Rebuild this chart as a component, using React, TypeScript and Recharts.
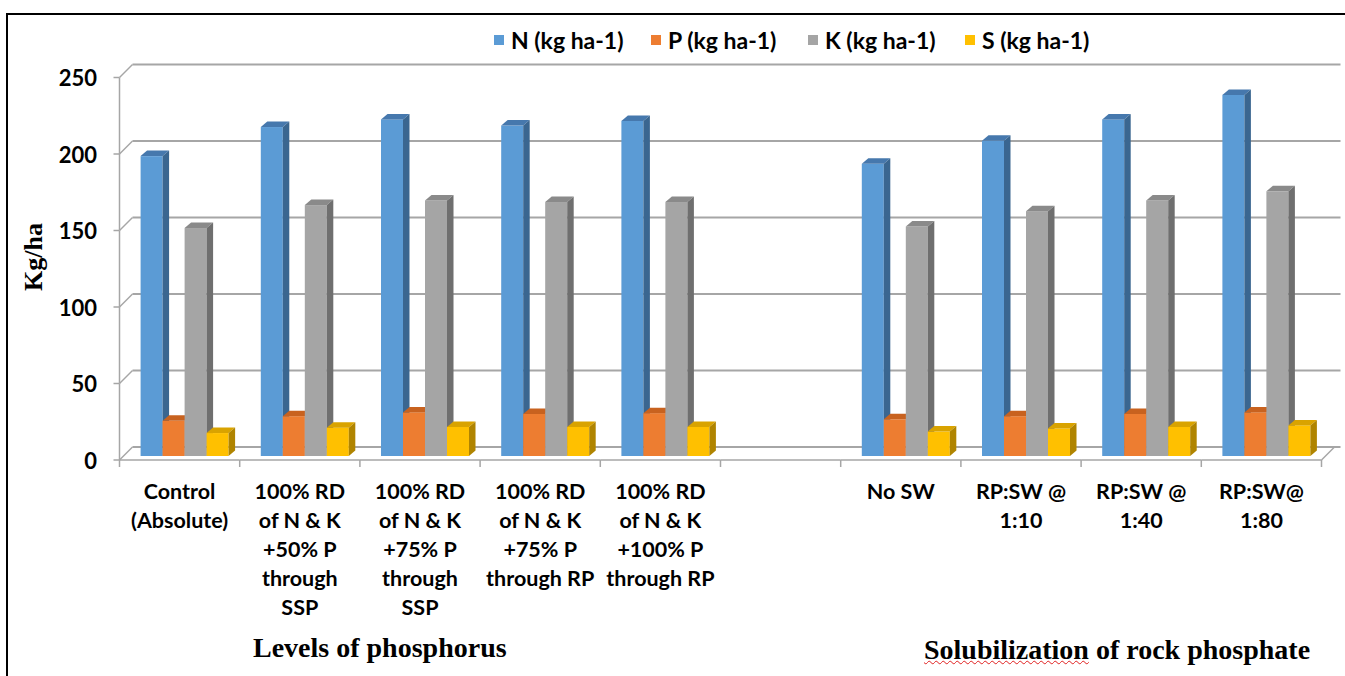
import React from "react";
import { BarChart, Bar, XAxis, YAxis, CartesianGrid } from "recharts";

const categories = [
  "Control\n(Absolute)",
  "100% RD\nof N & K\n+50% P\nthrough\nSSP",
  "100% RD\nof N & K\n+75% P\nthrough\nSSP",
  "100% RD\nof N & K\n+75% P\nthrough RP",
  "100% RD\nof N & K\n+100% P\nthrough RP",
  "",
  "No SW",
  "RP:SW @\n1:10",
  "RP:SW @\n1:40",
  "RP:SW@\n1:80",
];

const nValues = [196, 215, 220, 216, 219, null, 191, 206, 220, 236];
const pValues = [23, 26, 28.5, 27.5, 28, null, 24, 26, 27.5, 28.5];
const kValues = [149, 164, 167, 166, 166, null, 150, 160, 167, 173];
const sValues = [15, 18.5, 19, 19, 19, null, 16, 18, 19, 20];

const seriesNames = ["N (kg ha-1)", "P (kg ha-1)", "K (kg ha-1)", "S (kg ha-1)"];
const yTicks = [0, 50, 100, 150, 200, 250];

const palette = [
  { front: "#5b9bd5", top: "#4678ad", side: "#3a6690" },
  { front: "#ed7d31", top: "#c8621f", side: "#b5561a" },
  { front: "#a5a5a5", top: "#8a8a8a", side: "#6f6f6f" },
  { front: "#ffc000", top: "#d9a300", side: "#b08400" },
];

const rows = categories.map((name, i) => ({
  name,
  N: nValues[i],
  P: pValues[i],
  K: kValues[i],
  S: sValues[i],
}));
const keys = ["N", "P", "K", "S"];

// bar plane of the 3D plot
const W = 1345;
const H = 676;
const PLOT_LEFT = 124.5;
const PLOT_TOP = 73.5;
const PLOT_BOTTOM = 456;
const PLOT_RIGHT = 1326.5;
const BAND = (PLOT_RIGHT - PLOT_LEFT) / categories.length;
const STEP = ((PLOT_BOTTOM - PLOT_TOP) * 50) / 250;
// front plane / back wall offsets
const FX = -5;
const FY = 4;
const BX = 8;
const BY = -9;
const DX = 6.5;
const DY = 5.5;

const GRID = "#a6a6a6";
const LABEL_FONT = "Lato, 'Open Sans', sans-serif";
const SERIF = "'Liberation Serif', 'Times New Roman', serif";

const Box = (props: any) => {
  const { x, y, width, height, c } = props;
  if (!height || height <= 0) return null;
  const r = x + width;
  const b = y + height;
  return (
    <g>
      <rect x={x} y={y} width={width} height={height} fill={c.front} />
      <polygon
        points={`${x},${y} ${x + DX},${y - DY} ${r + DX},${y - DY} ${r},${y}`}
        fill={c.top}
      />
      <polygon
        points={`${r},${y} ${r + DX},${y - DY} ${r + DX},${b - DY} ${r},${b}`}
        fill={c.side}
      />
    </g>
  );
};

const YTick = (props: any) => {
  const { y, payload } = props;
  const ax = PLOT_LEFT + FX;
  const fy = y + FY;
  return (
    <g>
      <line x1={ax - 6} x2={ax} y1={fy} y2={fy} stroke={GRID} strokeWidth={1.5} />
      <line x1={ax} y1={fy} x2={PLOT_LEFT + BX} y2={y + BY} stroke={GRID} strokeWidth={1.5} />
      {payload.value > 0 && (
        <line x1={ax} x2={ax} y1={fy} y2={fy + STEP} stroke={GRID} strokeWidth={1.5} />
      )}
      <text
        x={97}
        y={fy}
        textAnchor="end"
        dominantBaseline="central"
        fontFamily={LABEL_FONT}
        fontWeight={700}
        fontSize={22}
        fill="#000"
      >
        {payload.value}
      </text>
    </g>
  );
};

const XTick = (props: any) => {
  const { x, payload, index } = props;
  const cx = x + FX;
  const fy = PLOT_BOTTOM + FY;
  const left = cx - BAND / 2;
  const right = cx + BAND / 2;
  const lines = String(payload.value).split("\n");
  const last = index === categories.length - 1;
  return (
    <g>
      <line x1={left} x2={right} y1={fy} y2={fy} stroke={GRID} strokeWidth={1.5} />
      <line x1={left} x2={left} y1={fy} y2={fy + 7} stroke={GRID} strokeWidth={1.5} />
      {last && (
        <>
          <line x1={right} x2={right} y1={fy} y2={fy + 7} stroke={GRID} strokeWidth={1.5} />
          <line x1={right} y1={fy} x2={right + BX - FX} y2={PLOT_BOTTOM + BY} stroke={GRID} strokeWidth={1.5} />
        </>
      )}
      {payload.value !== "" && (
        <text
          x={cx}
          textAnchor="middle"
          fontFamily={LABEL_FONT}
          fontWeight={700}
          fontSize={21.5}
          fill="#000"
        >
          {lines.map((l, i) => (
            <tspan key={i} x={cx} y={fy + 39 + i * 29}>
              {l}
            </tspan>
          ))}
        </text>
      )}
    </g>
  );
};

const BackLine = (props: any) => {
  const { x1, y1, x2 } = props;
  return (
    <line
      x1={x1 + BX}
      y1={y1 + BY}
      x2={x2 + 14}
      y2={y1 + BY}
      stroke={GRID}
      strokeWidth={2}
    />
  );
};

export default function App() {
  return (
    <div
      style={{
        position: "fixed",
        left: 0,
        top: 0,
        width: W,
        height: H,
        overflow: "hidden",
        background: "#fff",
      }}
    >
      <div
        style={{
          position: "absolute",
          left: 6,
          top: 13,
          width: 1400,
          height: 800,
          border: "2px solid #000",
        }}
      />
      <div
        style={{
          position: "absolute",
          left: 494,
          top: 26,
          display: "flex",
          fontFamily: LABEL_FONT,
          fontWeight: 700,
          fontSize: 23,
          lineHeight: "28px",
        }}
      >
        {seriesNames.map((s, i) => (
          <div key={s} style={{ width: 157, display: "flex", alignItems: "center" }}>
            <span
              style={{
                display: "inline-block",
                width: 10,
                height: 10,
                background: palette[i].front,
                marginRight: 7,
              }}
            />
            <span>{s}</span>
          </div>
        ))}
      </div>
      <div style={{ position: "absolute", left: 0, top: 0 }}>
        <BarChart
          width={W}
          height={H}
          data={rows}
          margin={{ top: PLOT_TOP, right: W - PLOT_RIGHT, left: 0, bottom: 0 }}
          barCategoryGap={16.1}
          barGap={0}
        >
          <CartesianGrid vertical={false} horizontal={(p: any) => <BackLine key={p.key} {...p} />} />
          <XAxis
            dataKey="name"
            height={H - PLOT_BOTTOM}
            interval={0}
            axisLine={false}
            tickLine={false}
            tick={<XTick />}
          />
          <YAxis
            width={PLOT_LEFT}
            domain={[0, 250]}
            ticks={yTicks}
            interval={0}
            axisLine={false}
            tickLine={false}
            tick={<YTick />}
          />
          {keys.map((k, i) => (
            <Bar
              key={k}
              dataKey={k}
              name={seriesNames[i]}
              fill={palette[i].front}
              isAnimationActive={false}
              shape={(p: any) => <Box {...p} c={palette[i]} />}
            />
          ))}
        </BarChart>
      </div>
      <div
        style={{
          position: "absolute",
          left: 34,
          top: 257,
          transform: "translate(-50%, -50%) rotate(-90deg)",
          fontFamily: SERIF,
          fontWeight: 700,
          fontSize: 26,
          whiteSpace: "nowrap",
        }}
      >
        Kg/ha
      </div>
      <div
        style={{
          position: "absolute",
          left: 253,
          top: 632,
          fontFamily: SERIF,
          fontWeight: 700,
          fontSize: 28,
          whiteSpace: "nowrap",
        }}
      >
        Levels of phosphorus
      </div>
      <div
        style={{
          position: "absolute",
          left: 924,
          top: 634,
          fontFamily: SERIF,
          fontWeight: 700,
          fontSize: 28,
          whiteSpace: "nowrap",
        }}
      >
        <span
          style={{
            textDecorationLine: "underline",
            textDecorationStyle: "wavy",
            textDecorationColor: "#e02020",
            textDecorationThickness: 1,
          }}
        >
          Solubilization
        </span>{" "}
        of rock phosphate
      </div>
    </div>
  );
}
